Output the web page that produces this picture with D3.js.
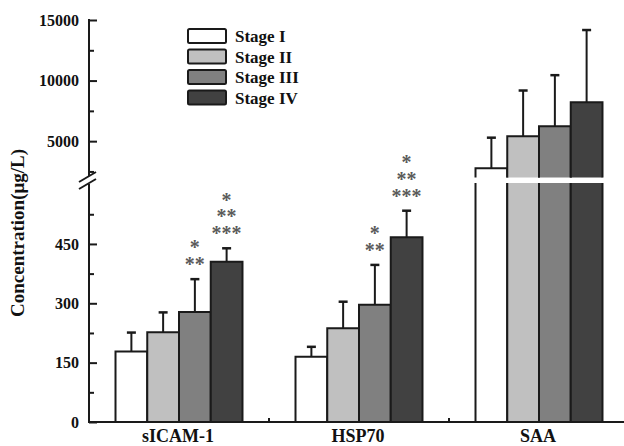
<html>
    <head>
        <meta charset="utf-8">
        <title>Concentration by stage</title>
        <script src="https://d3js.org/d3.v7.min.js"></script>
        <style>
            body { margin: 0; background: #fff; }
            text { font-family: "Liberation Serif", "Times New Roman", serif; font-weight: bold; }
        </style>
    </head>
    <body>
        <div id="chart"></div>
        <script>
            // Données
            const categories = ["sICAM-1", "HSP70", "SAA"];
            const stages = ["Stage I", "Stage II", "Stage III", "Stage IV"];
            const meanStageI = [178, 165, 2770];
            const meanStageII = [227, 237, 5395];
            const meanStageIII = [278, 296, 6223];
            const meanStageIV = [405, 467, 8210];
            const errStageI = [48, 25, 2517];
            const errStageII = [50, 67, 3784];
            const errStageIII = [83, 101, 4223];
            const errStageIV = [34, 67, 5962];
            const starsStageIII = [["*", "**"], ["*", "**"], []];
            const starsStageIV = [["*", "**", "***"], ["*", "**", "***"], []];
            const lowTicks = [0, 150, 300, 450];
            const lowMinor = [75, 225, 375, 525];
            const highTicks = [5000, 10000, 15000];
            const highMinor = [2500, 7500, 12500];
            const lowMax = 604, highMin = 2000, highMax = 15000;

            const means = [meanStageI, meanStageII, meanStageIII, meanStageIV];
            const errs = [errStageI, errStageII, errStageIII, errStageIV];
            const stars = [[[], [], []], [[], [], []], starsStageIII, starsStageIV];
            const colors = ["#ffffff", "#c0c0c0", "#808080", "#414141"];

            const width = 624, height = 446;
            const left = 89, bottom = 422;

            const svg = d3.select("#chart").append("svg")
                .attr("width", width)
                .attr("height", height);

            // Échelles : axe coupé en deux parties
            const yLo = d3.scaleLinear().domain([0, lowMax]).range([bottom, 183]);
            const yHi = d3.scaleLinear().domain([highMin, highMax]).range([177.5, 20]);
            const y = v => v <= lowMax ? yLo(v) : yHi(v);

            const x0 = d3.scaleBand().domain(categories).range([left, 629]).paddingInner(0);
            const x1 = d3.scaleBand().domain(stages).range([0, x0.bandwidth()]).paddingOuter(0.835);

            const ink = "#1a1a1a";

            // Barres
            const bars = [];
            categories.forEach((c, ci) => {
                stages.forEach((s, si) => {
                    bars.push({ cat: c, stage: s, si: si, v: means[si][ci], e: errs[si][ci], stars: stars[si][ci] });
                });
            });

            const g = svg.append("g");
            bars.forEach(d => {
                const xa = x0(d.cat) + x1(d.stage), xb = xa + x1.bandwidth();
                if (d.v <= lowMax) {
                    g.append("path")
                        .attr("d", `M${xa},${bottom}V${yLo(d.v)}H${xb}V${bottom}`)
                        .attr("fill", colors[d.si]).attr("stroke", ink).attr("stroke-width", 2);
                } else {
                    // partie basse
                    g.append("rect")
                        .attr("x", xa).attr("y", yLo(lowMax))
                        .attr("width", xb - xa).attr("height", bottom - yLo(lowMax))
                        .attr("fill", colors[d.si]);
                    g.append("path")
                        .attr("d", `M${xa},${bottom}V${yLo(lowMax)}M${xb},${yLo(lowMax)}V${bottom}`)
                        .attr("fill", "none").attr("stroke", ink).attr("stroke-width", 2);
                    // partie haute
                    g.append("path")
                        .attr("d", `M${xa},${yHi(highMin)}V${yHi(d.v)}H${xb}V${yHi(highMin)}`)
                        .attr("fill", colors[d.si]).attr("stroke", ink).attr("stroke-width", 2);
                }
                // barre d'erreur
                const cx = (xa + xb) / 2;
                const top = y(d.v + d.e);
                g.append("line")
                    .attr("x1", cx).attr("x2", cx).attr("y1", y(d.v)).attr("y2", top)
                    .attr("stroke", ink).attr("stroke-width", 2);
                g.append("line")
                    .attr("x1", cx - 4.5).attr("x2", cx + 4.5).attr("y1", top).attr("y2", top)
                    .attr("stroke", ink).attr("stroke-width", 2.5);
                // étoiles (un seul texte par barre)
                if (d.stars.length) {
                    const n = d.stars.length;
                    const t = g.append("text")
                        .attr("text-anchor", "middle")
                        .attr("font-size", 20)
                        .attr("fill", "#5a5a5a");
                    d.stars.forEach((s, k) => {
                        t.append("tspan")
                            .attr("x", cx)
                            .attr("y", top - 17.5 - (n - 1 - k) * 16.8 + 9.5)
                            .text(s);
                    });
                }
            });

            // Axe Y (deux segments)
            const styleAxis = sel => {
                sel.select(".domain").remove();
                sel.selectAll("line").attr("stroke", ink).attr("stroke-width", 2);
                sel.selectAll("text").attr("font-size", 16).attr("fill", "#111")
                    .style("font-family", "'Liberation Serif', serif").style("font-weight", "bold");
            };
            svg.append("g").attr("transform", `translate(${left},0)`)
                .call(d3.axisLeft(yLo).tickValues(lowTicks).tickSizeInner(-8).tickPadding(10).tickFormat(d3.format("d")))
                .call(styleAxis);
            svg.append("g").attr("transform", `translate(${left},0)`)
                .call(d3.axisLeft(yLo).tickValues(lowMinor).tickSizeInner(-5).tickFormat(""))
                .call(styleAxis);
            svg.append("g").attr("transform", `translate(${left},0)`)
                .call(d3.axisLeft(yHi).tickValues(highTicks).tickSizeInner(-8).tickPadding(10).tickFormat(d3.format("d")))
                .call(styleAxis);
            svg.append("g").attr("transform", `translate(${left},0)`)
                .call(d3.axisLeft(yHi).tickValues(highMinor).tickSizeInner(-5).tickFormat(""))
                .call(styleAxis);

            svg.append("path")
                .attr("d", `M${left},19V176M${left},184V${bottom + 1}`)
                .attr("stroke", ink).attr("stroke-width", 2).attr("fill", "none");
            // marque de coupure
            svg.append("path")
                .attr("d", `M${left - 10},182L${left + 7},172M${left - 10},189L${left + 7},179`)
                .attr("stroke", ink).attr("stroke-width", 2).attr("fill", "none");

            // Axe X
            svg.append("line")
                .attr("x1", left).attr("x2", width).attr("y1", bottom).attr("y2", bottom)
                .attr("stroke", ink).attr("stroke-width", 2);
            svg.append("g").selectAll("line")
                .data(categories.slice(1))
                .enter().append("line")
                .attr("x1", d => x0(d)).attr("x2", d => x0(d))
                .attr("y1", bottom).attr("y2", bottom - 4)
                .attr("stroke", ink).attr("stroke-width", 2);
            svg.append("g").selectAll("text")
                .data(categories)
                .enter().append("text")
                .attr("x", d => x0(d) + x0.bandwidth() / 2 - 1)
                .attr("y", 442)
                .attr("text-anchor", "middle")
                .attr("font-size", 18)
                .attr("fill", "#111")
                .text(d => d);

            // Titre de l'axe Y
            svg.append("text")
                .attr("transform", "translate(23.5,233) rotate(-90)")
                .attr("text-anchor", "middle")
                .attr("font-size", 19)
                .attr("fill", "#111")
                .text("Concentration(μg/L)");

            // Légende
            const legend = svg.append("g").attr("transform", "translate(188,29)");
            stages.forEach((s, i) => {
                legend.append("rect")
                    .attr("x", 0).attr("y", i * 20.5)
                    .attr("width", 38).attr("height", 14)
                    .attr("rx", 1.5)
                    .attr("fill", colors[i]).attr("stroke", ink).attr("stroke-width", 2);
                legend.append("text")
                    .attr("x", 47).attr("y", i * 20.5 + 13)
                    .attr("font-size", 17)
                    .attr("fill", "#111")
                    .text(s);
            });
        </script>
    </body>
</html>
